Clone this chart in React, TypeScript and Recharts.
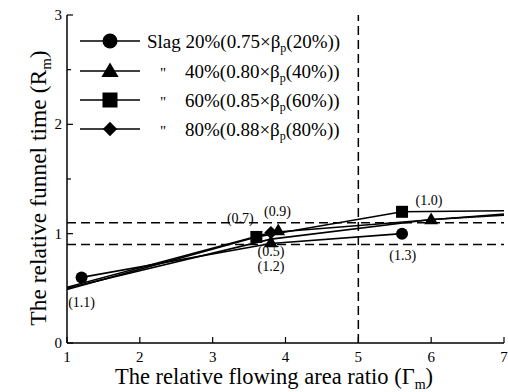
import { ComposedChart, Line, Scatter, XAxis, YAxis, ReferenceLine } from 'recharts';

const xTicks = [1, 2, 3, 4, 5, 6, 7];
const yTicks = [0, 0.5, 1, 1.5, 2, 2.5, 3];

const slag20Line = [{ x: 1.2, y: 0.6 }, { x: 3.8, y: 0.91 }, { x: 5.6, y: 1.0 }];
const slag40Line = [{ x: 1, y: 0.5 }, { x: 3.8, y: 0.95 }, { x: 6.0, y: 1.13 }, { x: 7, y: 1.17 }];
const slag60Line = [{ x: 1, y: 0.49 }, { x: 3.6, y: 0.97 }, { x: 5.6, y: 1.2 }, { x: 7, y: 1.21 }];
const slag80Line = [{ x: 1, y: 0.51 }, { x: 3.8, y: 1.01 }, { x: 7, y: 1.18 }];

// measured points
const slag20Points = [{ x: 1.2, y: 0.6 }, { x: 5.6, y: 1.0 }];
const slag40Points = [{ x: 3.8, y: 0.92 }, { x: 3.9, y: 1.03 }, { x: 6.0, y: 1.13 }];
const slag60Points = [{ x: 3.6, y: 0.97 }, { x: 5.6, y: 1.2 }];
const slag80Points = [{ x: 3.8, y: 1.01 }];

const notes = [
  { x: 1.2, y: 0.37, text: '(1.1)' },
  { x: 3.38, y: 1.14, text: '(0.7)' },
  { x: 3.89, y: 1.2, text: '(0.9)' },
  { x: 3.8, y: 0.835, text: '(0.5)' },
  { x: 3.8, y: 0.7, text: '(1.2)' },
  { x: 5.61, y: 0.8, text: '(1.3)' },
  { x: 5.97, y: 1.3, text: '(1.0)' },
];

const legendLead = ['Slag 20%', '"', '"', '"'];
const legendPct = ['', '40%', '60%', '80%'];
const legendFactor = ['0.75', '0.80', '0.85', '0.88'];
const legendTail = ['(20%))', '(40%))', '(60%))', '(80%))'];
const legendShapes = ['circle', 'triangle', 'square', 'diamond'];

const FONT = '"Liberation Serif", "Times New Roman", serif';

const Marker = ({ kind, cx, cy, s = 6 }: { kind: string; cx: number; cy: number; s?: number }) => {
  if (kind === 'circle') return <circle cx={cx} cy={cy} r={s} fill="#000" />;
  if (kind === 'square') return <rect x={cx - s} y={cy - s} width={2 * s} height={2 * s} fill="#000" />;
  if (kind === 'triangle')
    return <polygon points={`${cx},${cy - s * 1.15} ${cx - s * 1.15},${cy + s * 0.8} ${cx + s * 1.15},${cy + s * 0.8}`} fill="#000" />;
  return <polygon points={`${cx},${cy - s * 1.1} ${cx + s * 1.1},${cy} ${cx},${cy + s * 1.1} ${cx - s * 1.1},${cy}`} fill="#000" />;
};

const shapeOf = (kind: string) => (p: any) => <Marker kind={kind} cx={p.cx} cy={p.cy} />;

const noteShape = (p: any) => (
  <text x={p.cx} y={p.cy} textAnchor="middle" dominantBaseline="central" fontSize={14} fontFamily={FONT} fill="#000">
    {p.payload.text}
  </text>
);

const XTick = (p: any) => (
  <g>
    <line x1={p.x} y1={p.y} x2={p.x} y2={p.y - 6} stroke="#000" strokeWidth={1.2} />
    <text x={p.x} y={p.y + 19} textAnchor="middle" fontSize={15} fontFamily={FONT} fill="#000">
      {p.payload.value}
    </text>
  </g>
);

const YTick = (p: any) => {
  const v = p.payload.value;
  const major = Number.isInteger(v);
  return (
    <g>
      <line x1={p.x} y1={p.y} x2={p.x + (major ? 6 : 4)} y2={p.y} stroke="#000" strokeWidth={1.2} />
      {major && (
        <text x={p.x - 5} y={p.y + 5} textAnchor="end" fontSize={15} fontFamily={FONT} fill="#000">
          {v}
        </text>
      )}
    </g>
  );
};

const legendRows = [41, 71, 100, 129];

export default function App() {
  return (
    <div style={{ position: 'absolute', left: 0, top: 0, background: '#fff' }}>
      <ComposedChart width={508} height={392} margin={{ top: 15, right: 4, bottom: 19, left: 0 }}>
        <XAxis
          dataKey="x"
          type="number"
          domain={[1, 7]}
          ticks={xTicks}
          height={30}
          tickSize={0}
          tickMargin={0}
          tickLine={false}
          tick={<XTick />}
          axisLine={{ stroke: '#000', strokeWidth: 1.5 }}
          allowDataOverflow
        />
        <XAxis xAxisId="top" orientation="top" type="number" domain={[1, 7]} tick={false} tickLine={false} height={0} axisLine={{ stroke: '#000', strokeWidth: 1.5 }} />
        <YAxis
          dataKey="y"
          type="number"
          domain={[0, 3]}
          ticks={yTicks}
          width={67}
          tickSize={0}
          tickMargin={0}
          tickLine={false}
          tick={<YTick />}
          axisLine={{ stroke: '#000', strokeWidth: 1.5 }}
          allowDataOverflow
        />
        <YAxis yAxisId="right" orientation="right" type="number" domain={[0, 3]} tick={false} tickLine={false} width={0} axisLine={{ stroke: '#000', strokeWidth: 1.5 }} />

        <ReferenceLine y={1.1} stroke="#000" strokeWidth={1.5} strokeDasharray="9 5" />
        <ReferenceLine y={0.9} stroke="#000" strokeWidth={1.5} strokeDasharray="9 5" />
        <ReferenceLine x={5} stroke="#000" strokeWidth={1.5} strokeDasharray="9 5" />

        <Line data={slag20Line} dataKey="y" stroke="#000" strokeWidth={1.6} dot={false} isAnimationActive={false} />
        <Line data={slag40Line} dataKey="y" stroke="#000" strokeWidth={1.6} dot={false} isAnimationActive={false} />
        <Line data={slag60Line} dataKey="y" stroke="#000" strokeWidth={1.6} dot={false} isAnimationActive={false} />
        <Line data={slag80Line} dataKey="y" stroke="#000" strokeWidth={1.6} dot={false} isAnimationActive={false} />

        <Scatter data={slag20Points} dataKey="y" shape={shapeOf('circle')} isAnimationActive={false} />
        <Scatter data={slag40Points} dataKey="y" shape={shapeOf('triangle')} isAnimationActive={false} />
        <Scatter data={slag60Points} dataKey="y" shape={shapeOf('square')} isAnimationActive={false} />
        <Scatter data={slag80Points} dataKey="y" shape={shapeOf('diamond')} isAnimationActive={false} />
        <Scatter data={notes} dataKey="y" shape={noteShape} isAnimationActive={false} />

        {/* legend */}
        {legendRows.map((ry, i) => (
          <g key={i} fontFamily={FONT} fill="#000">
            <line x1={80} y1={ry} x2={140} y2={ry} stroke="#000" strokeWidth={1.6} />
            <Marker kind={legendShapes[i]} cx={110} cy={ry} s={i === 3 ? 6.5 : 7.5} />
            {i === 0 ? (
              <text x={147} y={ry + 7} fontSize={19}>
                {legendLead[i]}(
                {legendFactor[i]}×β<tspan dy={4} fontSize={12}>p</tspan>
                <tspan dy={-4}>{legendTail[i]}</tspan>
              </text>
            ) : (
              <>
                <text x={160} y={ry + 7} fontSize={15}>{legendLead[i]}</text>
                <text x={185} y={ry + 7} fontSize={19}>
                  {legendPct[i]}({legendFactor[i]}×β<tspan dy={4} fontSize={12}>p</tspan>
                  <tspan dy={-4}>{legendTail[i]}</tspan>
                </text>
              </>
            )}
          </g>
        ))}

        <text x={274} y={384} textAnchor="middle" fontSize={22.5} fontFamily={FONT} fill="#000">
          The relative flowing area ratio (Γ<tspan dy={5} fontSize={14}>m</tspan>
          <tspan dy={-5}>)</tspan>
        </text>
        <text x={46} y={188} transform="rotate(-90 46 188)" textAnchor="middle" fontSize={23.5} fontFamily={FONT} fill="#000">
          The relative funnel time (R<tspan dy={5} fontSize={15}>m</tspan>
          <tspan dy={-5}>)</tspan>
        </text>
      </ComposedChart>
    </div>
  );
}
